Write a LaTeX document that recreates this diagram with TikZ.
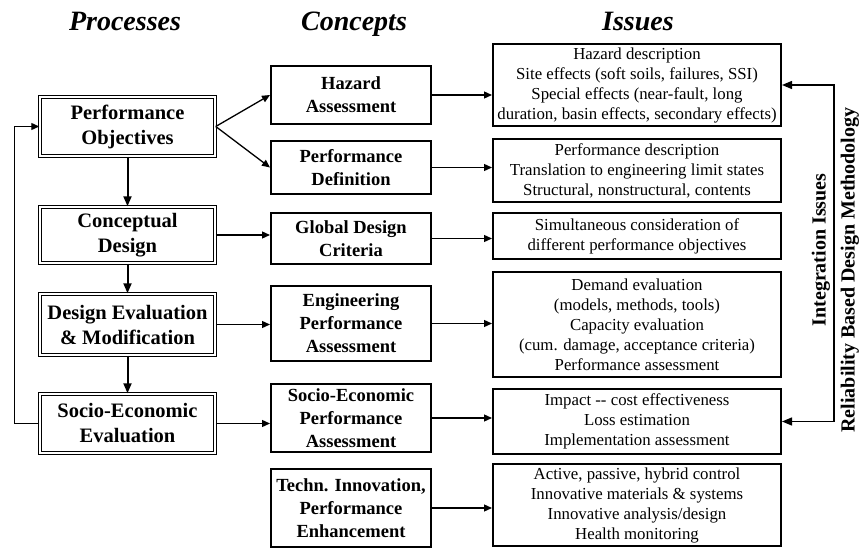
\documentclass[tikz,border=0pt]{standalone}
\usepackage{fontspec}
\setmainfont{Liberation Serif}
\usetikzlibrary{arrows.meta}

\begin{document}
\begin{tikzpicture}[x=1pt,y=-1pt,
  proc/.style={draw,double,line width=1.5pt,double distance=1.2pt,align=center,inner sep=0pt,minimum width=175pt,minimum height=#1,font=\fontsize{20.5}{25}\selectfont\bfseries},
  conc/.style={draw,line width=2pt,align=center,inner sep=0pt,minimum width=160pt,minimum height=#1,font=\fontsize{18.5}{23}\selectfont\bfseries},
  iss/.style={draw,line width=2pt,align=center,inner sep=0pt,minimum width=288pt,minimum height=#1,font=\fontsize{16.8}{20}\selectfont},
  head/.style={font=\fontsize{28}{30}\selectfont\bfseries\itshape,anchor=base},
  side/.style={font=\fontsize{20}{22}\selectfont\bfseries,rotate=90},
  link/.style={-{Triangle[length=8pt,width=7pt]},line width=1.3pt},
  flow/.style={-{Triangle[length=10pt,width=8pt]},line width=2pt}]
  \useasboundingbox (0,0) rectangle (860,551);
  % column titles
  \node[head] (hp) at (125,31) {Processes};
  \node[head] (hc) at (354,31) {Concepts};
  \node[head] (hi) at (638,31) {Issues};
  % processes
  \node[proc=59pt] (po) at (127.5,126.5) {Performance\\Objectives};
  \node[proc=56pt] (cd) at (127.5,235) {Conceptual\\Design};
  \node[proc=61pt] (dem) at (127.5,324.5) {Design Evaluation\\\& Modification};
  \node[proc=59pt] (see) at (127.5,423.5) {Socio-Economic\\Evaluation};
  % concepts
  \node[conc=58pt] (hz) at (351,95) {Hazard\\Assessment};
  \node[conc=53pt] (pd) at (351,167.5) {Performance\\Definition};
  \node[conc=51pt] (gd) at (351,238.5) {Global Design\\Criteria};
  \node[conc=75pt] (ep) at (351,323.5) {Engineering\\Performance\\Assessment};
  \node[conc=68pt] (sp) at (351,418) {Socio-Economic\\Performance\\Assessment};
  \node[conc=78pt] (ti) at (351,508) {Techn. Innovation,\\Performance\\Enhancement};
  % issues
  \node[iss=82pt] (hzi) at (637,85) {Hazard description\\Site effects (soft soils, failures, SSI)\\Special effects (near-fault, long\\duration, basin effects, secondary effects)};
  \node[iss=63pt] (pdi) at (637,170.5) {Performance description\\Translation to engineering limit states\\Structural, nonstructural, contents};
  \node[iss=46pt] (gdi) at (637,236) {Simultaneous consideration of\\different performance objectives};
  \node[iss=105pt] (epi) at (637,324.5) {Demand evaluation\\(models, methods, tools)\\Capacity evaluation\\(cum. damage, acceptance criteria)\\Performance assessment};
  \node[iss=65pt] (spi) at (637,421.5) {Impact -{}- cost effectiveness\\Loss estimation\\Implementation assessment};
  \node[iss=82pt] (tii) at (637,505) {Active, passive, hybrid control\\Innovative materials \& systems\\Innovative analysis/design\\Health monitoring};
  % side labels
  \node[side] (ii) at (821,250) {Integration Issues};
  \node[side] (rb) at (850,270) {Reliability Based Design Methodology};
  % process chain
  \draw[flow] (po) -- (cd);
  \draw[flow] (cd) -- (dem);
  \draw[flow] (dem) -- (see);
  \draw[link] (see.west) -- ++(-25,0) |- (po.west);
  % processes to concepts
  \draw[link] (po.east) -- (hz.west);
  \draw[link] (po.east) -- (pd.west);
  \draw[link] (cd.east) -- (cd.east -| gd.west);
  \draw[link] (dem.east) -- (dem.east -| ep.west);
  \draw[link] (see.east) -- (see.east -| sp.west);
  % concepts to issues
  \draw[link] (hz.east) -- (hz.east -| hzi.west);
  \draw[link] (pd.east) -- (pd.east -| pdi.west);
  \draw[link] (gd.east) -- (gd.east -| gdi.west);
  \draw[link] (ep.east) -- (ep.east -| epi.west);
  \draw[link] (sp.east) -- (sp.east -| spi.west);
  \draw[link] (ti.east) -- (ti.east -| tii.west);
  % integration loop
  \draw[{Triangle[length=10pt,width=8pt]}-{Triangle[length=10pt,width=8pt]},line width=1.3pt] (hzi.east) -- ++(52,0) |- (spi.east);
\end{tikzpicture}
\end{document}
